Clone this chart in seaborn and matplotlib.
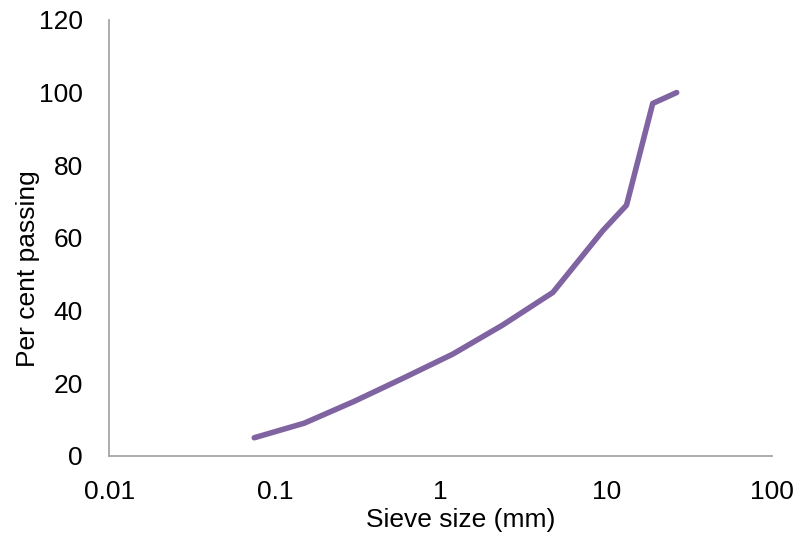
import matplotlib
matplotlib.use("Agg")
import matplotlib.pyplot as plt
import seaborn as sns
import pandas as pd
from matplotlib.ticker import FixedLocator, FixedFormatter

# sieve sizes (mm) and per cent passing
sieve_mm = [0.075, 0.15, 0.3, 0.6, 1.18, 2.36, 4.75, 9.5, 13.2, 19.0, 26.5]
passing = [5, 9, 15, 21.5, 28, 36, 45, 62, 69, 97, 100]

x_ticks = [0.01, 0.1, 1, 10, 100]
x_labels = ["0.01", "0.1", "1", "10", "100"]
y_ticks = [0, 20, 40, 60, 80, 100, 120]

sns.set_theme(style="white")
plt.rcParams["font.family"] = ["Liberation Sans", "DejaVu Sans"]

df = pd.DataFrame({"size": sieve_mm, "passing": passing})

fig, ax = plt.subplots(figsize=(7.97, 5.37), dpi=100)
sns.lineplot(data=df, x="size", y="passing", ax=ax, color="#8064A2",
             linewidth=4, solid_capstyle="round", solid_joinstyle="round")

ax.set_xscale("log")
ax.set_xlim(0.01, 100)
ax.set_ylim(0, 120)
ax.xaxis.set_major_locator(FixedLocator(x_ticks))
ax.xaxis.set_major_formatter(FixedFormatter(x_labels))
ax.xaxis.set_minor_locator(FixedLocator([]))
ax.set_yticks(y_ticks)

ax.tick_params(axis="both", length=0, labelsize=19, colors="black")
ax.tick_params(axis="x", pad=17)
ax.tick_params(axis="y", pad=19)
ax.set_xlabel("Sieve size (mm)", fontsize=19, color="black")
ax.set_ylabel("Per cent passing", fontsize=19, color="black")
# Excel put the titles a little off-centre
ax.xaxis.set_label_coords(0.53, -0.12)
ax.yaxis.set_label_coords(-0.105, 0.43)

for side in ["top", "right"]:
    ax.spines[side].set_visible(False)
for side in ["left", "bottom"]:
    ax.spines[side].set_color("#A6A6A6")
    ax.spines[side].set_linewidth(1.3)

fig.subplots_adjust(left=0.137, right=0.969, top=0.963, bottom=0.151)
fig.savefig("out.png", dpi=100)
